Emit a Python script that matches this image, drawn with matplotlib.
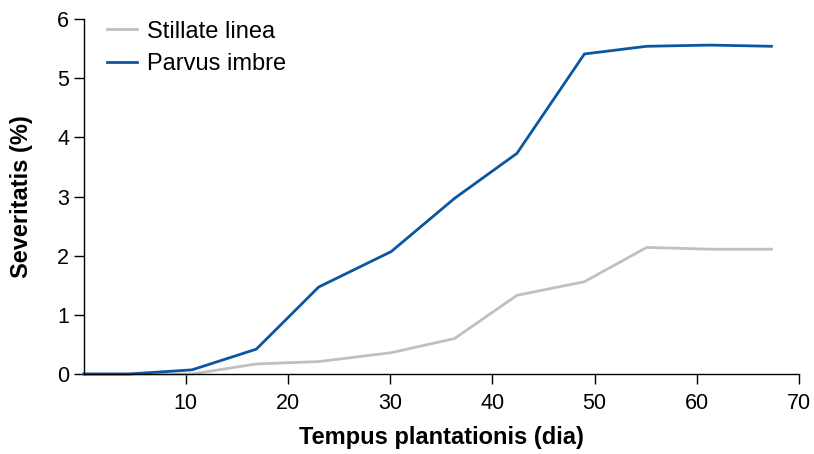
import numpy as np
import matplotlib
matplotlib.use('Agg')
import matplotlib.pyplot as plt

plt.rcParams['font.family'] = ['Liberation Sans', 'DejaVu Sans']

### Data ###
days = [0, 4.4, 10.6, 16.9, 23.0, 30.1, 36.3, 42.4, 49.0, 55.1, 61.3, 67.3]
stillate = [0, 0, 0, 0.17, 0.21, 0.36, 0.60, 1.33, 1.56, 2.14, 2.11, 2.11]
parvus = [0, 0, 0.07, 0.42, 1.47, 2.07, 2.97, 3.73, 5.41, 5.54, 5.56, 5.54]
x_ticks = [10, 20, 30, 40, 50, 60, 70]
y_ticks = [0, 1, 2, 3, 4, 5, 6]

fig = plt.figure(figsize=(8.14, 4.54), dpi=100)
ax = fig.add_axes([0.1027, 0.1762, 0.8789, 0.7818])

ax.plot(days, stillate, color='#c0c0c0', lw=2.0, label='Stillate linea', clip_on=False)
ax.plot(days, parvus, color='#0a56a0', lw=2.0, label='Parvus imbre', clip_on=False)

ax.set_xlim(0, 70)
ax.set_ylim(0, 6)
ax.set_xticks(x_ticks)
ax.set_yticks(y_ticks)
for s in ['top', 'right']:
    ax.spines[s].set_visible(False)
ax.spines['left'].set_linewidth(1.0)
ax.spines['bottom'].set_linewidth(1.0)
ax.tick_params(direction='out', length=7, width=1.0, labelsize=15.5)
ax.tick_params(axis='x', pad=7)
ax.tick_params(axis='y', pad=3.5)

ax.set_xlabel('Tempus plantationis (dia)', fontsize=17, fontweight='bold', labelpad=8)
ax.set_ylabel('Severitatis (%)', fontsize=17, fontweight='bold', labelpad=17)

ax.legend(loc='upper left', frameon=False, fontsize=17, handlelength=1.3,
          handletextpad=0.4, borderaxespad=0.0, bbox_to_anchor=(0.019, 1.022),
          labelspacing=0.45)

fig.savefig('out.png', dpi=100)
